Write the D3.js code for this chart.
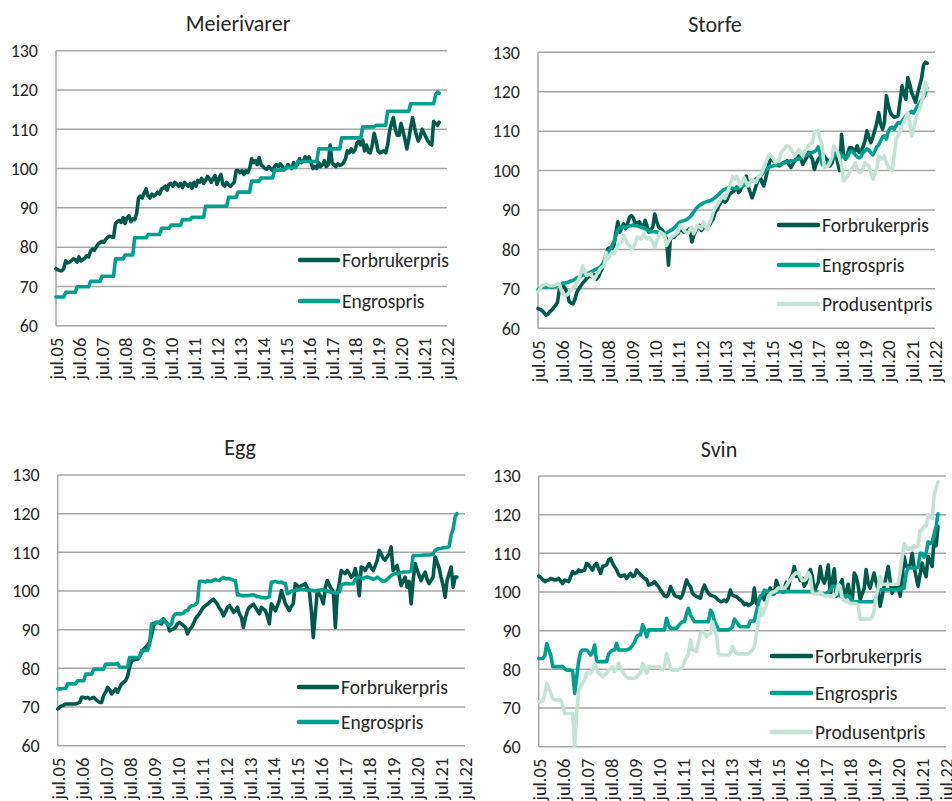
<!DOCTYPE html>
<html>
<head>
<meta charset="utf-8">
<script src="https://cdn.jsdelivr.net/npm/d3@7/dist/d3.min.js"></script>
<style>
  html, body { margin: 0; padding: 0; background: #fff; }
  svg { display: block; font-family: Carlito, Lato, "Open Sans", sans-serif; }
</style>
</head>
<body>
<svg id="chart" width="952" height="801"></svg>
<script>
// ---------------- DATA ----------------
const startMonth = "2005-07";          // first observation (monthly series)
const xTickLabels = ["jul.05","jul.06","jul.07","jul.08","jul.09","jul.10","jul.11","jul.12","jul.13","jul.14","jul.15","jul.16","jul.17","jul.18","jul.19","jul.20","jul.21","jul.22"];
const yTicks = [60, 70, 80, 90, 100, 110, 120, 130];
const panelTitles = ["Meierivarer", "Storfe", "Egg", "Svin"];
const seriesNames = ["Forbrukerpris", "Engrospris", "Produsentpris"];

const meierivarerForbrukerpris = [
74.5,74.2,74.0,74.0,74.5,76.5,76.0,76.2,76.5,77.0,76.8,76.2,
77.5,76.5,76.8,77.2,77.8,77.5,79.0,79.5,79.2,80.0,80.8,81.2,
81.5,81.2,82.0,82.5,82.8,82.6,82.5,86.0,86.5,86.8,86.3,87.5,
86.0,87.5,88.0,86.5,87.2,87.0,88.5,92.5,93.0,92.5,93.8,94.8,
93.0,92.5,93.5,93.0,93.4,94.0,93.5,94.8,95.0,95.5,94.5,96.0,
96.2,95.5,96.5,96.0,95.5,96.2,95.2,96.5,96.0,95.5,96.2,95.0,
96.5,95.5,97.0,96.5,97.5,96.2,97.0,98.0,97.4,96.5,97.5,98.2,
96.0,97.5,98.5,96.0,95.5,96.5,95.8,95.5,96.0,96.5,99.5,99.5,
99.0,99.5,98.5,99.5,99.0,100.0,102.5,101.5,102.0,101.0,102.8,101.0,
100.5,100.0,99.8,100.5,100.0,99.5,100.5,101.0,100.5,101.2,100.5,100.0,
100.0,101.0,100.5,100.0,101.5,100.5,101.0,102.5,101.5,102.0,103.0,102.0,
103.0,101.5,100.0,100.5,100.0,101.5,100.5,101.0,102.0,100.5,101.0,106.0,
101.5,101.0,100.5,101.2,100.8,101.0,101.5,102.5,104.5,104.0,105.0,104.2,
104.8,106.5,107.0,106.0,107.2,104.5,106.0,104.2,104.0,106.0,109.0,107.0,
104.5,104.0,104.2,104.5,104.0,106.0,109.5,111.5,113.0,110.0,108.5,108.5,
111.5,109.5,107.5,105.0,107.5,110.5,113.0,110.5,108.5,107.0,108.0,110.0,
109.0,108.0,107.0,106.3,106.0,112.0,111.5,111.0,111.8];

const meierivarerEngrospris = [
67.3,67.3,67.3,67.3,67.3,68.5,68.5,68.5,68.5,68.5,68.5,69.9,
69.9,69.9,69.9,69.9,69.9,69.9,71.3,71.3,71.3,71.3,71.3,71.3,
72.6,72.6,72.6,72.6,72.6,72.6,72.6,77.0,77.0,77.0,77.0,77.0,
78.0,78.0,78.0,78.0,78.0,82.4,82.4,82.4,82.4,82.4,82.4,82.4,
83.2,83.2,83.2,83.2,83.2,83.2,83.2,84.8,84.8,84.8,84.8,84.8,
85.6,85.6,85.6,85.6,85.6,85.6,87.0,87.0,87.0,87.0,87.0,87.6,
87.6,87.6,87.6,87.6,87.6,87.6,90.4,90.4,90.4,90.4,90.4,90.4,
90.4,90.4,90.4,90.4,90.4,90.4,92.7,92.7,92.7,92.7,92.7,94.0,
94.0,94.0,94.0,94.0,94.0,94.0,96.8,96.8,96.8,96.8,96.8,97.6,
97.6,97.6,97.6,97.6,97.6,97.6,99.6,99.6,99.6,99.6,99.6,99.6,
100.3,100.3,100.3,100.3,100.3,100.3,101.8,101.8,101.8,101.8,101.8,101.8,
101.8,101.8,101.8,101.8,101.8,105.0,105.0,105.0,105.0,105.0,105.0,105.0,
105.0,105.0,105.0,105.0,105.0,107.8,107.8,107.8,107.8,107.8,107.8,107.8,
107.8,107.8,107.8,107.8,110.6,110.6,110.6,110.6,110.6,110.6,110.6,111.0,
111.0,111.0,111.0,111.0,111.0,114.6,114.6,114.6,114.6,114.6,114.6,114.6,
114.6,114.6,114.6,114.6,114.6,116.5,116.5,116.5,116.5,116.5,116.5,116.5,
116.5,116.5,116.5,116.5,116.5,116.5,118.8,119.5,119.2];

const storfeForbrukerpris = [
65.0,64.8,64.5,64.0,63.3,63.6,64.2,64.6,65.2,65.8,66.6,69.8,
70.5,70.8,70.0,69.0,66.8,66.4,66.2,67.5,69.2,70.0,70.8,71.5,
72.0,72.6,73.2,73.4,73.0,73.6,72.5,73.0,74.2,75.2,76.8,79.0,
80.2,80.5,80.2,81.0,84.4,87.0,84.4,85.5,86.5,85.3,86.5,88.2,
88.6,88.0,86.1,86.8,87.0,86.0,85.7,87.4,86.0,84.4,85.0,85.7,
89.0,87.0,85.7,85.2,84.8,83.5,82.7,76.0,82.7,83.0,83.1,83.8,
84.0,85.3,84.8,84.4,84.6,84.8,85.3,81.9,83.5,84.8,85.5,86.1,
84.8,85.5,85.7,85.5,86.1,87.0,87.8,89.5,90.0,91.2,92.0,92.9,
92.0,92.5,93.7,94.2,94.6,95.0,95.8,94.4,95.0,96.5,97.5,98.6,
96.1,94.5,93.1,94.5,96.1,97.5,98.6,97.0,96.1,98.0,100.3,102.5,
102.9,102.5,102.0,101.5,101.2,101.6,102.0,102.2,102.5,101.5,100.8,101.8,
102.5,103.3,103.7,103.0,101.6,102.5,103.3,104.6,103.8,102.9,100.3,101.8,
102.9,103.5,104.2,103.7,103.0,102.5,101.2,102.0,103.5,104.5,102.0,100.0,
109.2,104.0,102.9,104.0,105.8,105.8,105.4,105.0,106.3,104.6,105.0,106.0,
107.5,110.1,108.5,107.1,108.5,110.1,112.0,114.7,112.0,110.5,112.2,119.0,
116.5,114.7,114.0,113.5,113.7,113.9,117.7,121.5,119.5,118.1,123.6,122.0,
119.8,118.5,117.3,119.5,121.5,123.2,126.6,127.5,127.2];

const storfeEngrospris = [
69.8,70.2,70.5,70.5,70.4,70.6,70.5,70.4,70.5,70.6,70.8,71.0,
71.2,71.5,71.5,71.6,71.8,72.0,72.2,72.5,72.8,73.0,73.2,73.5,
73.6,73.8,74.0,74.3,74.5,74.8,75.0,75.3,75.6,76.2,77.0,78.2,
79.0,80.0,81.0,82.0,83.5,85.0,85.5,85.6,85.8,85.5,85.8,86.0,
86.0,86.2,86.0,86.0,85.8,85.6,85.5,85.2,85.0,84.6,84.5,84.5,
84.5,84.4,84.3,84.2,84.0,84.0,84.2,84.5,84.8,85.0,85.5,86.0,
86.5,87.0,87.2,87.3,87.5,87.8,88.2,88.8,89.5,90.2,90.8,91.2,
91.5,91.8,92.0,92.2,92.3,92.5,92.8,93.2,93.6,94.0,94.6,95.0,
95.3,95.5,95.5,95.6,95.5,95.4,95.5,95.6,95.8,96.0,96.3,96.6,
97.0,97.2,97.4,97.6,97.8,98.2,98.6,99.0,99.5,100.0,100.5,101.0,
101.0,101.2,101.3,101.5,101.5,101.6,101.8,102.0,102.2,102.3,102.5,102.5,
102.6,102.8,103.0,103.2,103.5,103.8,104.0,104.3,104.5,104.6,104.8,105.2,
106.0,104.0,101.5,101.3,101.5,102.0,102.5,103.0,103.5,104.0,104.3,104.5,
104.0,103.5,103.0,103.5,104.5,105.0,104.6,104.0,103.5,103.2,103.5,104.6,
105.0,105.5,105.2,104.5,104.0,104.8,106.0,106.5,107.5,108.5,108.8,108.0,
110.0,110.8,111.0,110.5,111.5,112.2,112.0,112.5,113.2,113.9,114.3,114.7,
115.0,114.6,115.5,116.4,117.0,117.8,118.6,119.5,120.8];

const storfeProdusentpris = [
69.2,70.0,70.8,71.0,71.3,71.0,70.8,70.8,70.8,71.0,71.2,71.3,
69.5,68.7,68.3,68.5,69.2,69.8,70.4,70.8,71.5,72.5,74.0,75.9,
74.5,73.4,73.6,73.8,73.0,72.5,73.5,74.2,75.1,75.5,75.9,79.3,
77.6,78.5,79.3,78.9,80.0,81.0,81.5,81.9,83.6,82.5,81.5,81.0,
80.2,80.5,81.8,83.1,82.9,82.7,84.0,83.2,82.7,83.1,82.5,81.9,
80.5,82.2,83.5,84.4,84.0,83.6,81.0,82.0,82.7,83.2,83.6,84.0,
84.4,86.1,85.5,84.8,84.3,84.0,85.0,85.7,84.0,85.0,86.1,85.7,
85.3,87.0,85.8,84.8,86.5,87.8,89.5,90.5,91.2,92.0,92.8,93.7,
92.9,94.0,95.4,97.0,98.4,97.8,98.6,97.5,96.1,97.0,98.2,97.0,
96.1,97.0,97.8,97.4,97.0,98.2,98.6,99.5,100.8,102.0,103.2,104.2,
103.7,103.0,102.0,102.5,102.9,104.6,105.2,105.8,106.3,106.0,105.4,104.5,
103.7,104.6,105.4,104.5,103.7,105.0,105.5,106.3,106.8,107.1,109.7,110.1,
110.1,108.0,106.3,100.8,101.0,101.2,102.0,103.5,106.3,105.5,104.6,103.0,
101.2,97.4,98.0,98.6,99.5,100.3,101.0,102.0,100.5,99.5,99.5,100.5,
102.0,101.5,101.2,99.5,97.8,99.0,100.3,103.7,102.9,103.2,103.7,102.0,
101.0,100.3,100.0,104.0,108.0,108.8,110.0,111.4,112.2,113.5,114.7,112.0,
108.8,110.5,113.0,114.5,115.6,117.3,119.0,122.4,120.5];

const eggForbrukerpris = [
69.5,70.0,70.3,70.5,70.8,70.8,70.8,70.8,70.8,70.8,71.0,71.2,
72.5,72.5,72.3,72.5,72.1,72.3,72.5,72.0,71.6,71.2,71.2,73.0,
73.8,75.1,74.5,73.4,74.0,74.7,73.8,75.0,76.0,76.4,76.8,78.0,
80.3,82.0,82.2,82.4,82.4,83.0,84.1,85.0,85.4,86.0,86.7,88.5,
91.0,91.8,91.9,91.7,91.5,92.8,92.0,91.5,89.7,90.0,90.2,90.6,
91.5,91.9,91.5,91.0,90.6,88.9,90.0,90.6,91.5,92.8,93.5,94.1,
95.0,95.8,96.2,96.6,97.1,97.5,97.9,97.2,96.6,95.5,94.9,93.6,
94.5,95.8,96.2,95.5,94.5,95.0,95.8,94.0,93.2,90.6,93.0,94.9,
95.8,96.2,96.6,95.8,94.9,94.1,95.8,95.3,94.9,93.5,91.5,96.7,
95.8,94.9,96.2,97.5,100.1,98.5,96.7,95.8,94.9,96.0,96.7,101.9,
101.4,101.0,101.4,101.6,101.9,100.8,100.1,94.9,88.0,94.1,100.1,99.2,
98.4,96.7,101.0,102.7,101.5,100.6,99.7,90.6,99.3,102.0,105.3,104.8,
104.5,105.3,104.5,103.6,104.0,105.8,103.5,98.8,106.2,106.0,105.3,106.2,
107.1,106.0,105.3,106.5,107.9,110.5,109.5,108.4,108.0,108.9,109.5,111.4,
105.3,106.0,106.6,104.0,101.4,102.5,103.6,101.0,102.5,96.7,102.7,107.1,
105.5,104.0,102.7,104.0,104.9,103.0,101.9,102.8,103.6,108.8,107.5,106.0,
103.6,101.5,98.4,102.7,104.5,106.2,101.0,103.6,103.6];

const eggEngrospris = [
74.7,74.7,74.7,74.8,74.8,76.0,76.0,76.0,76.0,76.0,76.8,76.8,
76.8,76.8,78.5,78.5,78.5,78.5,79.8,79.8,79.8,79.8,79.8,79.8,
81.1,81.1,81.1,81.1,81.1,81.1,81.3,80.3,80.3,80.3,80.3,80.3,
82.8,82.8,82.8,82.8,82.8,83.0,84.6,84.6,84.6,84.6,86.3,91.5,
91.5,91.9,91.9,91.9,92.5,92.5,92.0,91.5,91.0,91.5,93.5,94.1,
94.1,94.1,94.1,94.3,94.9,94.9,95.8,96.2,96.2,96.5,97.1,102.5,
102.5,102.5,102.3,102.7,102.5,102.5,102.8,103.0,102.7,102.7,103.2,103.5,
103.2,103.2,103.2,103.0,102.8,102.7,99.0,99.0,98.8,98.8,98.8,98.8,
98.8,99.0,99.0,98.8,98.5,98.5,98.3,98.3,98.2,98.3,98.5,102.3,
102.3,102.5,102.3,102.2,102.3,102.0,102.0,99.3,99.5,100.0,100.0,100.2,
100.2,100.4,100.5,100.4,100.3,100.2,100.2,100.2,100.1,100.0,100.0,100.2,
100.3,100.2,100.2,100.0,99.8,99.7,99.6,99.5,99.5,99.7,101.5,101.8,
101.9,101.9,101.8,101.9,101.9,103.0,103.5,103.6,103.4,103.2,103.5,103.6,
103.5,103.3,103.0,103.2,103.6,103.2,102.8,102.5,102.6,103.0,103.5,104.0,
104.3,104.5,104.5,104.7,104.8,104.9,104.9,104.9,105.0,105.2,109.2,109.2,
109.2,109.2,109.2,109.3,109.3,109.3,109.3,109.4,109.5,110.5,110.8,111.0,
111.0,111.2,111.2,111.3,111.5,114.5,116.0,119.2,120.0];

const svinForbrukerpris = [
104.1,103.8,103.2,102.7,103.0,103.1,103.5,103.3,103.1,103.2,103.5,102.8,
102.2,103.1,102.9,102.7,104.0,105.3,104.8,105.0,105.7,105.3,105.5,105.7,
107.4,107.0,106.3,105.7,107.0,107.4,106.0,104.8,106.6,106.8,107.0,108.3,
108.7,107.4,106.5,105.7,104.5,104.0,104.2,104.4,103.5,104.2,104.8,104.0,
104.2,105.7,105.0,104.4,104.0,103.5,103.3,101.8,102.0,102.2,102.7,102.0,
101.4,100.5,99.7,99.0,98.8,99.5,101.4,100.2,99.2,98.8,98.8,98.4,
99.2,101.0,103.1,102.0,101.4,99.7,99.2,98.8,98.6,98.4,100.5,101.8,
100.5,99.7,99.2,99.0,98.8,98.4,97.9,97.5,97.6,97.9,97.5,98.5,
100.5,99.2,99.0,98.8,98.4,97.9,97.5,96.7,97.0,96.5,96.8,97.2,
101.0,97.0,97.6,98.5,98.9,98.0,99.7,100.0,101.0,100.0,99.5,103.0,
101.5,100.5,100.0,101.0,102.5,100.8,103.5,104.5,106.6,104.0,104.9,103.0,
103.5,101.5,102.5,104.9,105.8,104.0,99.7,101.5,102.5,106.6,103.5,102.3,
104.0,107.0,99.0,103.0,106.0,98.9,101.0,102.0,103.2,98.0,100.0,102.0,
98.9,97.5,104.9,104.0,101.5,98.0,99.5,101.0,105.8,102.3,101.0,103.0,
104.9,102.5,100.6,96.3,98.9,101.5,104.0,106.6,103.0,99.7,101.0,101.5,
101.5,98.9,104.0,109.2,106.6,106.6,107.0,110.0,106.5,104.0,101.5,104.5,
107.5,105.5,104.0,109.2,108.0,106.6,113.5,112.0,116.9];

const svinEngrospris = [
82.8,82.8,82.8,83.5,86.7,85.0,83.7,80.7,80.7,80.7,80.7,80.7,
80.7,80.2,79.8,79.8,79.8,79.5,73.8,78.0,82.0,84.5,85.0,85.0,
85.0,84.5,83.7,84.5,86.3,82.0,82.0,82.0,82.0,82.0,82.0,84.0,
84.6,85.0,85.0,86.7,85.0,85.0,85.0,85.0,85.0,85.2,85.5,86.3,
87.0,88.4,88.9,88.9,91.5,90.5,88.4,90.2,90.2,90.2,90.2,90.2,
90.2,90.2,90.2,90.2,93.2,91.5,90.6,90.6,90.6,90.6,91.2,91.9,
92.3,92.3,94.5,95.8,94.0,93.2,92.3,92.3,92.3,92.3,92.3,92.3,
92.3,92.3,95.3,94.5,92.3,91.5,90.2,90.2,90.2,90.2,90.2,90.2,
90.5,91.0,93.0,92.3,91.5,91.0,91.0,91.0,91.0,91.0,92.5,92.5,
92.5,95.0,97.0,99.0,99.3,100.5,100.3,100.0,99.8,99.5,99.8,100.0,
100.0,100.1,100.1,100.0,100.1,100.1,100.1,100.1,100.1,100.1,100.1,100.1,
100.1,100.1,100.1,100.1,100.1,100.0,100.0,100.0,100.0,99.6,99.5,99.5,
99.6,100.0,100.5,101.5,101.5,101.0,99.2,99.0,99.0,99.0,99.0,99.0,
98.5,97.5,97.5,97.5,97.5,97.5,97.5,97.5,97.5,97.5,97.5,97.5,
97.5,98.5,100.5,100.6,100.6,100.6,100.6,100.6,100.6,100.6,100.6,100.6,
100.6,100.8,101.0,101.0,105.0,106.2,106.2,106.2,106.2,106.2,106.5,110.0,
110.0,109.0,110.0,113.0,112.5,113.0,115.0,117.0,120.2];

const svinProdusentpris = [
71.6,71.6,71.8,73.5,76.4,75.0,73.8,72.5,72.1,72.1,72.1,72.1,
71.0,68.6,68.6,68.6,68.6,68.6,60.0,69.0,74.2,75.5,76.4,77.2,
79.0,79.0,79.0,80.0,81.6,80.0,79.0,78.5,78.1,78.5,79.0,79.8,
80.2,80.7,79.4,80.0,81.6,80.5,79.4,78.5,78.0,77.7,77.7,77.7,
77.7,78.0,78.5,79.0,81.6,80.5,79.0,80.7,80.7,80.7,80.7,80.5,
80.7,80.2,79.8,80.5,84.1,82.0,80.3,79.8,79.8,79.8,79.8,80.2,
80.5,82.0,83.0,84.1,87.6,85.0,85.0,84.6,87.0,89.3,89.7,89.5,
88.4,89.0,89.3,92.3,90.5,88.9,84.1,83.7,83.7,83.7,83.7,83.7,
84.0,85.9,84.8,84.1,84.0,84.0,84.0,84.0,84.0,84.0,84.5,85.0,
86.0,89.0,92.0,96.0,94.0,95.5,97.0,99.0,99.5,100.0,100.0,100.5,
101.0,101.0,101.0,101.0,101.5,102.5,103.0,104.0,104.5,105.0,105.0,104.0,
103.0,103.0,103.5,105.0,104.0,100.0,99.5,99.5,99.5,100.0,99.5,99.0,
99.0,99.0,99.0,99.0,99.0,99.5,102.0,101.5,98.5,98.0,97.5,97.5,
97.0,97.0,97.0,97.0,96.5,93.0,93.0,93.0,93.0,93.0,93.0,93.5,
95.0,99.0,101.0,104.0,102.0,102.0,102.0,102.0,102.0,102.0,102.0,102.0,
102.0,105.0,109.0,112.5,111.5,111.0,111.5,111.0,112.0,111.5,112.0,116.0,
116.0,117.0,117.0,120.0,119.5,119.0,125.0,127.0,128.5];

// ---------------- LAYOUT / STYLE ----------------
const colors = ["#005a4b", "#00a08e", "#c4e3d5"];
const gridColor = "#a6a6a6";
const textColor = "#262626";

const panels = [
  { title: panelTitles[0], series: [meierivarerForbrukerpris, meierivarerEngrospris],
    box: {l: 56, r: 447, t: 50.7, b: 325.7}, titleX: 238, titleY: 31,
    legend: {x1: 300, x2: 338, tx: 342, ys: [260, 301]} },
  { title: panelTitles[1], series: [storfeForbrukerpris, storfeEngrospris, storfeProdusentpris],
    box: {l: 538, r: 935, t: 52.3, b: 328.3}, titleX: 715, titleY: 31.5,
    legend: {x1: 779, x2: 818, tx: 822, ys: [225, 265, 304]} },
  { title: panelTitles[2], series: [eggForbrukerpris, eggEngrospris],
    box: {l: 57.7, r: 465, t: 475, b: 745.7}, titleX: 240, titleY: 455,
    legend: {x1: 299, x2: 337, tx: 341, ys: [687, 722]} },
  { title: panelTitles[3], series: [svinForbrukerpris, svinEngrospris, svinProdusentpris],
    box: {l: 538.7, r: 946, t: 476, b: 746.7}, titleX: 719, titleY: 457,
    legend: {x1: 772, x2: 811, tx: 815, ys: [656, 693, 732]} }
];

const parseMonth = d3.timeParse("%Y-%m");
const start = parseMonth(startMonth);
const xStart = start;
const xEnd = d3.timeYear.offset(start, xTickLabels.length - 1);
const tickDates = xTickLabels.map((_, i) => d3.timeYear.offset(start, i));

const svg = d3.select("#chart");

panels.forEach(p => {
  const g = svg.append("g");
  const x = d3.scaleTime().domain([xStart, xEnd]).range([p.box.l, p.box.r]);
  const y = d3.scaleLinear().domain([60, 130]).range([p.box.b, p.box.t]);

  // gridlines
  g.append("g").selectAll("line").data(yTicks).join("line")
    .attr("x1", p.box.l).attr("x2", p.box.r)
    .attr("y1", d => y(d)).attr("y2", d => y(d))
    .attr("stroke", gridColor).attr("stroke-width", 1.5);
  // left axis line
  g.append("line").attr("x1", p.box.l).attr("x2", p.box.l)
    .attr("y1", y(130)).attr("y2", y(60))
    .attr("stroke", gridColor).attr("stroke-width", 1.5);

  // y axis labels
  const yAxis = d3.axisLeft(y).tickValues(yTicks).tickSize(0).tickPadding(18);
  const ya = g.append("g").attr("transform", `translate(${p.box.l},0)`).call(yAxis);
  ya.select(".domain").remove();
  ya.selectAll("text").attr("fill", textColor).style("font-size", "18px")
    .style("font-family", "Carlito, Lato, sans-serif");

  // x axis labels
  const xAxis = d3.axisBottom(x).tickValues(tickDates).tickSize(0)
    .tickFormat((d, i) => xTickLabels[i]);
  const xa = g.append("g").attr("transform", `translate(0,${p.box.b})`).call(xAxis);
  xa.select(".domain").remove();
  xa.selectAll("text")
    .attr("fill", textColor).style("font-size", "18.5px")
    .style("font-family", "Carlito, Lato, sans-serif")
    .attr("text-anchor", "end")
    .attr("transform", "rotate(-90)")
    .attr("x", -12).attr("y", 0).attr("dy", "0.36em");

  // lines
  const line = d3.line()
    .x((d, i) => x(d3.timeMonth.offset(start, i)))
    .y(d => y(d));
  p.series.forEach((s, k) => {
    g.append("path").datum(s)
      .attr("d", line)
      .attr("fill", "none")
      .attr("stroke", colors[k])
      .attr("stroke-width", 3.6)
      .attr("stroke-linejoin", "round")
      .attr("stroke-linecap", "round");
  });

  // title
  g.append("text").attr("x", p.titleX).attr("y", p.titleY)
    .attr("text-anchor", "middle").attr("fill", textColor)
    .style("font-size", "22px").text(p.title);

  // legend
  p.series.forEach((s, k) => {
    const ly = p.legend.ys[k];
    g.append("line").attr("x1", p.legend.x1).attr("x2", p.legend.x2)
      .attr("y1", ly).attr("y2", ly)
      .attr("stroke", colors[k]).attr("stroke-width", 4.5).attr("stroke-linecap", "round");
    g.append("text").attr("x", p.legend.tx).attr("y", ly).attr("dy", "0.35em")
      .attr("fill", textColor).style("font-size", "19.5px").text(seriesNames[k]);
  });
});
</script>
</body>
</html>
